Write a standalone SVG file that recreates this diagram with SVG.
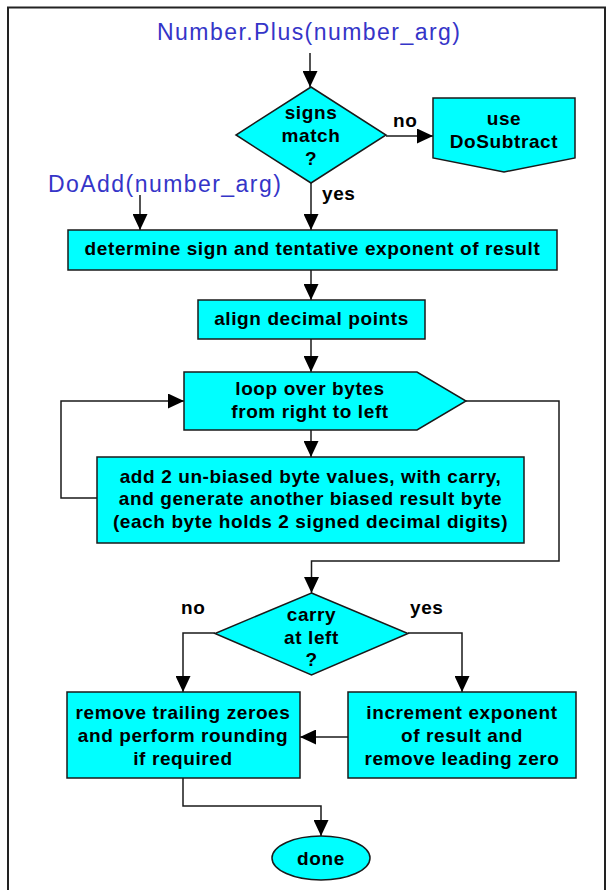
<svg xmlns="http://www.w3.org/2000/svg" width="608" height="890" viewBox="0 0 608 890">
<defs>
<style>
.shape{fill:#00FFFF;stroke:#1a1a1a;stroke-width:1.5}
.lbl{font-family:"Liberation Sans",Arial,sans-serif;font-weight:bold;font-size:19px;letter-spacing:0.6px;fill:#000;text-anchor:middle}
.lbl-l{font-family:"Liberation Sans",Arial,sans-serif;font-weight:bold;font-size:19px;letter-spacing:0.6px;fill:#000}
.entry{font-family:"Liberation Sans",Arial,sans-serif;font-size:23px;letter-spacing:1.45px;fill:#3535C8}
.conn{fill:none;stroke:#1a1a1a;stroke-width:1.5}
</style>
<marker id="arr" viewBox="0 0 16 15" refX="16" refY="7.5" markerWidth="16" markerHeight="15" markerUnits="userSpaceOnUse" orient="auto">
<path d="M0,0 L16,7.5 L0,15 Z" fill="#000"/>
</marker>
</defs>
<rect x="0" y="0" width="608" height="890" fill="#fff"/>
<path d="M8,892 V7.5 H605 V892" fill="none" stroke="#222" stroke-width="2"/>

<g id="connectors">
<path class="conn" d="M310,53 V87" marker-end="url(#arr)"/>
<path class="conn" d="M386,136 H433" marker-end="url(#arr)"/>
<path class="conn" d="M140,195 V230" marker-end="url(#arr)"/>
<path class="conn" d="M311,183 V230" marker-end="url(#arr)"/>
<path class="conn" d="M311,270 V300" marker-end="url(#arr)"/>
<path class="conn" d="M311,339 V372" marker-end="url(#arr)"/>
<path class="conn" d="M311,430 V457" marker-end="url(#arr)"/>
<path class="conn" d="M97,498 H61 V401 H184" marker-end="url(#arr)"/>
<path class="conn" d="M466,401 H559 V561 H311.5 V593" marker-end="url(#arr)"/>
<path class="conn" d="M215,633 H183 V692" marker-end="url(#arr)"/>
<path class="conn" d="M408,633 H462 V692" marker-end="url(#arr)"/>
<path class="conn" d="M348,737 H300" marker-end="url(#arr)"/>
<path class="conn" d="M183,778 V806 H321 V836" marker-end="url(#arr)"/>
<text class="lbl-l" x="393" y="127">no</text>
<text class="lbl-l" x="322" y="200">yes</text>
<text class="lbl-l" x="181" y="614">no</text>
<text class="lbl-l" x="410" y="614">yes</text>
</g>

<g id="entry-plus">
<text class="entry" x="157" y="40">Number.Plus(number_arg)</text>
</g>
<g id="entry-doadd">
<text class="entry" x="48" y="192">DoAdd(number_arg)</text>
</g>

<g id="signs-match">
<path class="shape" d="M311,87 L386,135 L311,183 L236,135 Z"/>
<text class="lbl" x="311" y="119">signs</text>
<text class="lbl" x="311" y="142">match</text>
<text class="lbl" x="311" y="165">?</text>
</g>

<g id="use-dosubtract">
<path class="shape" d="M433,98 H575 V158 L504,172 L433,158 Z"/>
<text class="lbl" x="504" y="125">use</text>
<text class="lbl" x="504" y="148">DoSubtract</text>
</g>

<g id="determine-sign">
<rect class="shape" x="68" y="230" width="489" height="40"/>
<text class="lbl" x="312.5" y="255">determine sign and tentative exponent of result</text>
</g>

<g id="align-points">
<rect class="shape" x="198" y="300" width="227" height="39"/>
<text class="lbl" x="311.5" y="325">align decimal points</text>
</g>

<g id="loop-bytes">
<path class="shape" d="M184,372 H417 L466,401 L417,430 H184 Z"/>
<text class="lbl" x="310" y="395">loop over bytes</text>
<text class="lbl" x="310" y="418">from right to left</text>
</g>

<g id="add-bytes">
<rect class="shape" x="97" y="457" width="427" height="86"/>
<text class="lbl" x="310.5" y="482.5">add 2 un-biased byte values, with carry,</text>
<text class="lbl" x="310.5" y="505">and generate another biased result byte</text>
<text class="lbl" x="310.5" y="527.5">(each byte holds 2 signed decimal digits)</text>
</g>

<g id="carry-left">
<path class="shape" d="M311.5,593 L408,633.5 L311.5,675 L215,633.5 Z"/>
<text class="lbl" x="311.5" y="621">carry</text>
<text class="lbl" x="311.5" y="643.5">at left</text>
<text class="lbl" x="311.5" y="666">?</text>
</g>

<g id="remove-trailing">
<rect class="shape" x="67" y="692" width="233" height="86"/>
<text class="lbl" x="183" y="718.5">remove trailing zeroes</text>
<text class="lbl" x="183" y="741.5">and perform rounding</text>
<text class="lbl" x="183" y="765">if required</text>
</g>

<g id="increment-exponent">
<rect class="shape" x="348" y="692" width="228" height="86"/>
<text class="lbl" x="462" y="719">increment exponent</text>
<text class="lbl" x="462" y="742">of result and</text>
<text class="lbl" x="462" y="765">remove leading zero</text>
</g>

<g id="done">
<ellipse class="shape" cx="321" cy="858" rx="49" ry="22"/>
<text class="lbl" x="321" y="864.5">done</text>
</g>
</svg>
